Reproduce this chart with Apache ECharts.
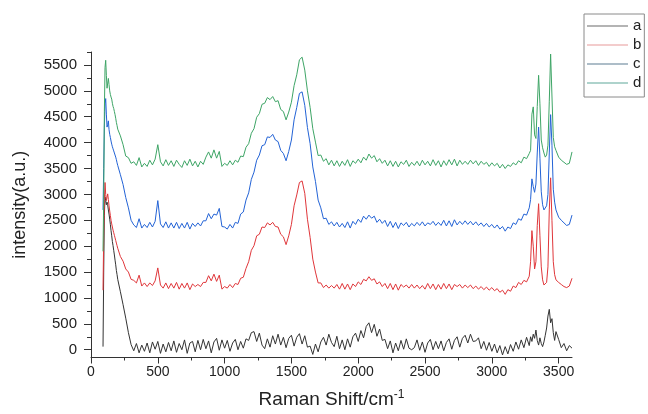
<!DOCTYPE html>
<html>
<head>
<meta charset="utf-8">
<title>Raman spectra</title>
<script src="https://cdn.jsdelivr.net/npm/echarts@6/dist/echarts.min.js"></script>
<style>
  html, body { margin: 0; padding: 0; background: #ffffff; }
  #chart { width: 648px; height: 414px; }
</style>
</head>
<body>
<div id="chart"></div>
<script>
// Raman shift grid (cm^-1): finer steps around the sharp bands
const ramanShift = [
  90, 95, 100, 105, 110, 115, 120, 125, 130, 135, 140,
  145, 150, 155, 160, 165, 170, 175, 180, 185, 190, 195, 200,
  220, 240, 260, 280, 300, 320, 340, 360, 380, 400,
  420, 440, 460, 480, 500, 520, 540, 560, 580, 600,
  620, 640, 660, 680, 700, 720, 740, 760, 780, 800,
  820, 840, 860, 880, 900, 920, 940, 960, 980, 1000,
  1020, 1040, 1060, 1080, 1100, 1120, 1140, 1160, 1180, 1200,
  1220, 1240, 1260, 1280, 1300, 1320, 1340, 1360, 1380, 1400,
  1420, 1440, 1460, 1480, 1500, 1520, 1540, 1560, 1580, 1600,
  1620, 1640, 1660, 1680, 1700, 1720, 1740, 1760, 1780, 1800,
  1820, 1840, 1860, 1880, 1900, 1920, 1940, 1960, 1980, 2000,
  2020, 2040, 2060, 2080, 2100, 2120, 2140, 2160, 2180, 2200,
  2220, 2240, 2260, 2280, 2300, 2320, 2340, 2360, 2380, 2400,
  2420, 2440, 2460, 2480, 2500, 2520, 2540, 2560, 2580, 2600,
  2620, 2640, 2660, 2680, 2700, 2720, 2740, 2760, 2780, 2800,
  2820, 2840, 2860, 2880, 2900, 2920, 2940, 2960, 2980, 3000,
  3020, 3040, 3060, 3080, 3100, 3120, 3140, 3160, 3180, 3200,
  3220, 3240, 3260, 3280,
  3290, 3300, 3310, 3320, 3330, 3340, 3350, 3360, 3370, 3380,
  3390, 3400, 3410, 3420, 3430, 3440, 3450, 3460, 3470, 3480,
  3500, 3520, 3540, 3560, 3580, 3600
];

// Intensity (a.u.) of each sample on the grid above
const intensityA = [
  60, 1500, 2600, 2950, 2880, 2800, 2850, 2800, 2700, 2620, 2520,
  2420, 2300, 2200, 2090, 2010, 1920, 1830, 1730, 1640, 1530, 1450, 1360,
  1120, 870, 610, 330, 100, -20, 120, -60, 90, -30,
  130, -60, 150, 10, 160, -70, 110, -40, 140, -20,
  170, -50, 120, 0, 190, -70, 130, 160, -40, 180,
  0, 200, 20, 170, -60, 150, 220, -10, 190, 30,
  180, -30, 130, 200, 0, 160, 30, 210, 180, 330,
  350, 160, 320, 90, 20, 210, 50, 270, 110, 300,
  90, 240, 40, 220, 280, 70, 240, 310, 110, 270,
  50, 70, -90, 110, -40, 150, 240, 90, 300, 140,
  60, 260, 20, 190, 0, 210, 50, 250, 320, 160,
  370, 230, 450, 520, 330, 490, 260, 400, 180, 200,
  20, 170, -60, 130, -20, 180, 10, 210, 30, 0,
  40, 190, -10, 150, -50, 130, 200, 0, 160, 20,
  170, -20, 140, 210, 10, 180, 250, 50, 220, 280,
  130, 300, 160, 170, 230, 20, 160, -10, 140, -30,
  110, -60, 80, -100, 60, -80, 100, -30, 150, 10,
  190, 40, 240, 80,
  250, 160, 300, 220, 380, 180, 90, 230, 120, 60,
  150, 280, 420, 650, 780, 520, 600, 330, 180, 350,
  200, 40, 120, -20, 80, 30
];

const intensityB = [
  1150, 2200, 2900, 3230, 3000, 2880, 2950, 3010, 2900, 2780, 2680,
  2590, 2500, 2430, 2370, 2310, 2260, 2210, 2160, 2110, 2060, 2010, 1960,
  1800, 1710, 1560, 1500, 1360, 1340, 1290, 1440, 1230, 1290,
  1220, 1290, 1240, 1330, 1580, 1250, 1190, 1290, 1180, 1280,
  1190, 1300, 1170, 1280, 1190, 1290, 1160, 1270, 1220, 1260,
  1220, 1300, 1300, 1430, 1330, 1460, 1320, 1440, 1170, 1220,
  1190, 1260, 1200, 1280, 1260, 1380, 1400, 1570, 1700, 1920,
  2010, 2200, 2230, 2370, 2360, 2450, 2410, 2460, 2380, 2370,
  2230, 2180, 2030, 2200, 2420, 2780, 2990, 3230, 3260, 3020,
  2520, 2170, 1750, 1500, 1290, 1290, 1200, 1250, 1190, 1240,
  1190, 1260, 1170, 1280, 1170, 1270, 1160, 1270, 1220, 1310,
  1260, 1360, 1330, 1410, 1340, 1370, 1270, 1310, 1220, 1280,
  1180, 1280, 1160, 1270, 1150, 1260, 1210, 1250, 1190, 1260,
  1190, 1250, 1180, 1240, 1170, 1280, 1180, 1270, 1160, 1260,
  1170, 1280, 1180, 1270, 1160, 1260, 1220, 1260, 1190, 1250,
  1200, 1250, 1180, 1230, 1170, 1220, 1160, 1210, 1150, 1200,
  1140, 1180, 1110, 1150, 1070, 1160, 1130, 1230, 1200, 1300,
  1260, 1340, 1310, 1420,
  1700, 2300, 2000, 1560, 1700, 2400, 2820, 2200, 1600, 1350,
  1250, 1240, 1300, 1600, 2700, 3320, 2500, 1700, 1450, 1350,
  1300, 1260, 1220, 1200, 1230, 1380
];

const intensityC = [
  2700, 3500, 4300, 4750, 4850, 4550, 4300, 4350, 4420, 4250, 4160,
  4100, 4030, 3970, 3920, 3880, 3840, 3800, 3770, 3720, 3670, 3610, 3560,
  3380, 3190, 2940, 2740, 2500, 2410, 2360, 2530, 2350, 2420,
  2360, 2460, 2370, 2480, 2880, 2430, 2360, 2470, 2350, 2450,
  2350, 2460, 2340, 2440, 2350, 2460, 2330, 2440, 2380, 2450,
  2390, 2490, 2490, 2630, 2530, 2620, 2600, 2730, 2380, 2370,
  2330, 2420, 2350, 2460, 2440, 2620, 2660, 2890, 3030, 3290,
  3430, 3660, 3760, 3940, 3960, 4110, 4100, 4160, 4050, 4020,
  3850, 3790, 3650, 3830, 4050, 4440, 4680, 4950, 4980, 4720,
  4290, 3980, 3530, 3250, 2890, 2740, 2530, 2540, 2420, 2470,
  2390, 2460, 2370, 2440, 2360, 2470, 2350, 2480, 2420, 2520,
  2460, 2580, 2520, 2600, 2540, 2580, 2460, 2520, 2440, 2500,
  2380, 2480, 2360, 2460, 2340, 2450, 2400, 2460, 2370, 2440,
  2390, 2460, 2400, 2470, 2390, 2450, 2420, 2480, 2400, 2460,
  2400, 2500, 2390, 2490, 2380, 2510, 2410, 2480, 2420, 2490,
  2420, 2480, 2410, 2470, 2400, 2450, 2380, 2440, 2370, 2420,
  2350, 2410, 2330, 2380, 2290, 2370, 2340, 2450, 2420, 2530,
  2500, 2620, 2600, 2740,
  2900, 3300, 3150, 3040, 3200, 3800, 4300, 3700, 3050, 2800,
  2700, 2720, 2780, 3000, 3800, 4540, 3950, 3100, 2850, 2700,
  2560, 2500, 2450, 2400, 2420, 2600
];

const intensityD = [
  1900, 2900, 4600, 5450, 5590, 5300, 5050, 5150, 5240, 5120, 5000,
  4930, 4880, 4840, 4760, 4700, 4660, 4600, 4540, 4470, 4390, 4330, 4260,
  4130, 3960, 3740, 3710, 3600, 3630, 3560, 3710, 3530, 3600,
  3540, 3660, 3570, 3680, 3960, 3630, 3550, 3670, 3560, 3650,
  3540, 3660, 3580, 3520, 3650, 3560, 3680, 3550, 3640, 3530,
  3640, 3580, 3720, 3820, 3700, 3860, 3700, 3830, 3540, 3600,
  3560, 3650, 3570, 3660, 3620, 3740, 3730, 3910, 3980, 4180,
  4270, 4490, 4560, 4740, 4760, 4870, 4830, 4890, 4790, 4810,
  4640, 4600, 4440, 4590, 4780, 5100, 5310, 5600, 5650, 5400,
  5000, 4680, 4270, 4010, 3750, 3760, 3640, 3690, 3570, 3660,
  3550, 3650, 3540, 3640, 3560, 3670, 3540, 3650, 3600, 3680,
  3610, 3720, 3660, 3780, 3700, 3750, 3630, 3690, 3600, 3660,
  3550, 3650, 3540, 3640, 3530, 3630, 3580, 3660, 3540, 3620,
  3560, 3640, 3550, 3660, 3570, 3640, 3550, 3670, 3560, 3650,
  3530, 3650, 3560, 3670, 3570, 3680, 3550, 3660, 3580, 3640,
  3580, 3660, 3590, 3650, 3560, 3640, 3580, 3620, 3540, 3610,
  3550, 3600, 3510, 3580, 3500, 3570, 3540, 3610, 3570, 3650,
  3610, 3720, 3690, 3790,
  3850, 4550, 4690, 4150, 4080, 4700, 5300, 4750, 4050, 3900,
  3800, 3720, 3760, 3950, 4800, 5710, 4900, 4100, 3920, 3850,
  3720, 3660, 3620, 3580, 3600, 3820
];

const seriesNames = ['a', 'b', 'c', 'd'];

// Axis tick positions
const xMajorTicks = [0, 500, 1000, 1500, 2000, 2500, 3000, 3500];
const xMinorTicks = [250, 750, 1250, 1750, 2250, 2750, 3250];
const yMajorTicks = [0, 500, 1000, 1500, 2000, 2500, 3000, 3500, 4000, 4500, 5000, 5500];
const yMinorTicks = [250, 750, 1250, 1750, 2250, 2750, 3250, 3750, 4250, 4750, 5250, 5750];

const lineColors = ['#333333', '#e0363a', '#2363d6', '#3ea566'];
const legendColors = ['#6a6a6a', '#e89a9a', '#5c7c92', '#5fa89a'];

const spectra = [intensityA, intensityB, intensityC, intensityD];
spectra.forEach(function (s, i) {
  if (s.length !== ramanShift.length) {
    throw new Error('series ' + seriesNames[i] + ' has ' + s.length + ' values, expected ' + ramanShift.length);
  }
});

const X_MIN = 0, X_MAX = 3600, Y_MIN = -150, Y_MAX = 5750;
const axisColor = '#333333';
const textColor = '#222222';
const font = 'Liberation Sans, Arial, sans-serif';
const plainNumber = function (v) { return String(v); };

const chart = echarts.init(document.getElementById('chart'), null, { renderer: 'canvas' });

chart.setOption({
  animation: false,
  backgroundColor: '#ffffff',
  textStyle: { fontFamily: font },
  grid: { left: 91, right: 76, top: 52, bottom: 52, containLabel: false },
  legend: {
    orient: 'vertical',
    left: 584,
    top: 14,
    padding: [4, 3, 6, 3],
    itemGap: 3,
    itemWidth: 41,
    itemHeight: 1,
    icon: 'rect',
    borderColor: '#8a8a8a',
    borderWidth: 1,
    backgroundColor: '#ffffff',
    textStyle: { fontSize: 15, lineHeight: 16, color: textColor, fontFamily: font },
    data: seriesNames.map(function (n, i) {
      return { name: n, itemStyle: { color: legendColors[i] } };
    })
  },
  xAxis: [
    {
      type: 'value', min: X_MIN, max: X_MAX, position: 'bottom',
      name: 'Raman Shift/cm{sup|-1}',
      nameLocation: 'middle',
      nameGap: 31,
      nameTextStyle: {
        fontSize: 19, color: textColor, fontFamily: font,
        rich: { sup: { fontSize: 12, color: textColor, fontFamily: font, padding: [0, 0, 10, 0] } }
      },
      axisLine: { show: true, onZero: false, lineStyle: { color: axisColor, width: 1 } },
      axisTick: { show: true, customValues: xMajorTicks, length: 6, lineStyle: { color: axisColor } },
      axisLabel: { customValues: xMajorTicks, formatter: plainNumber, fontSize: 14, color: textColor, margin: 8, fontFamily: font },
      splitLine: { show: false }
    },
    {
      type: 'value', min: X_MIN, max: X_MAX, position: 'bottom',
      axisLine: { show: false, onZero: false },
      axisTick: { show: true, customValues: xMinorTicks, length: 3, lineStyle: { color: axisColor } },
      axisLabel: { show: false },
      splitLine: { show: false }
    }
  ],
  yAxis: [
    {
      type: 'value', min: Y_MIN, max: Y_MAX, position: 'left',
      name: 'intensity(a.u.)',
      nameLocation: 'middle',
      nameGap: 62,
      nameTextStyle: { fontSize: 18, color: textColor, fontFamily: font },
      axisLine: { show: true, onZero: false, lineStyle: { color: axisColor, width: 1 } },
      axisTick: { show: true, customValues: yMajorTicks, length: 7, lineStyle: { color: axisColor } },
      axisLabel: { customValues: yMajorTicks, formatter: plainNumber, fontSize: 15, color: textColor, margin: 14, fontFamily: font },
      splitLine: { show: false }
    },
    {
      type: 'value', min: Y_MIN, max: Y_MAX, position: 'left',
      axisLine: { show: false, onZero: false },
      axisTick: { show: true, customValues: yMinorTicks, length: 4, lineStyle: { color: axisColor } },
      axisLabel: { show: false },
      splitLine: { show: false }
    }
  ],
  series: spectra.map(function (values, i) {
    return {
      name: seriesNames[i],
      type: 'line',
      xAxisIndex: 0,
      yAxisIndex: 0,
      symbol: 'none',
      showSymbol: false,
      lineStyle: { color: lineColors[i], width: 1 },
      itemStyle: { color: lineColors[i] },
      emphasis: { disabled: true },
      data: ramanShift.map(function (x, k) { return [x, values[k]]; })
    };
  })
});
</script>
</body>
</html>
